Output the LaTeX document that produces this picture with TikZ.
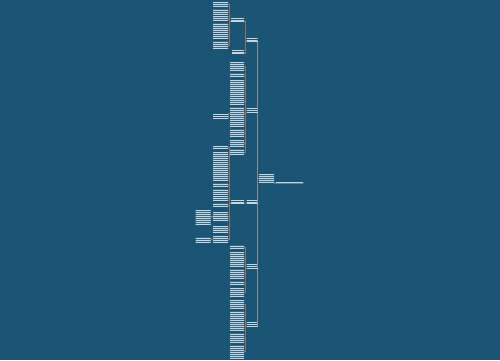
\documentclass[tikz,border=0pt]{standalone}
\usetikzlibrary{patterns.meta}

\definecolor{bgblue}{HTML}{1B5576}
\definecolor{txtc}{HTML}{C9D6DE}
\definecolor{spinec}{HTML}{8D9093}
\definecolor{subc}{HTML}{9C6E5C}

\tikzset{
  textlines/.style={postaction={pattern={Lines[angle=0,distance=2pt,line width=.6pt]},pattern color=txtc}},
  leaf/.style={rectangle,inner sep=0pt,minimum width=14pt,fill=bgblue!88!white,textlines},
  lab/.style={rectangle,inner sep=0pt,minimum height=3pt,anchor=south west,fill=bgblue,textlines},
  trunk/.style={draw=spinec,line width=1.2pt},
  twig/.style={draw=subc,line width=.7pt},
  under/.style={draw=txtc,line width=.5pt},
  elbow/.style={to path={-- ++(-1.5,0) |- (\tikztotarget)}}
}

\begin{document}
\begin{tikzpicture}[x=1pt,y=-1pt]

        \useasboundingbox (0,0) rectangle (500,360);
        \fill[bgblue] (0,0) rectangle (500,360);

        % centre and its five branches
        \node[leaf,minimum width=15pt,minimum height=9pt] (root) at (266.5,178.5) {};
        \node[lab,minimum width=27pt,minimum height=1.5pt] (rt) at (276,183) {};
        \node[lab,minimum width=11pt] (la) at (246.5,41)  {};
        \node[lab,minimum width=11pt] (lb) at (246.5,112) {};
        \node[lab,minimum width=11pt] (lc) at (246.5,203) {};
        \node[lab,minimum width=11pt] (ld) at (246.5,268) {};
        \node[lab,minimum width=11pt] (le) at (246.5,326) {};

        % branch a
        \node[lab,minimum width=13pt] (a1) at (231,21) {};
        \node[lab,minimum width=12pt] (a2) at (232,53) {};
        \begin{scope}[every node/.style={leaf,minimum width=15pt}]
          \node[minimum height=5pt]  (a11) at (220.5,4.5)  {};
          \node[minimum height=6pt]  (a12) at (220.5,12)   {};
          \node[minimum height=4pt]  (a13) at (220.5,18)   {};
          \node[minimum height=10pt] (a14) at (220.5,28)   {};
          \node[minimum height=5pt]  (a15) at (220.5,36.5) {};
          \node[minimum height=8pt]  (a16) at (220.5,45)   {};
        \end{scope}

        % branch b
        \begin{scope}[every node/.style={leaf}]
          \node[minimum height=8pt]  (b1)  at (237,66)    {};
          \node[minimum height=4pt]  (b2)  at (237,75)    {};
          \node[minimum height=8pt]  (b3)  at (237,84)    {};
          \node[minimum height=7pt]  (b4)  at (237,92.5)  {};
          \node[minimum height=7pt]  (b5)  at (237,101.5) {};
          \node[minimum height=13pt] (b6)  at (237,113.5) {};
          \node[minimum height=5pt]  (b7)  at (237,124.5) {};
          \node[minimum height=8pt]  (b8)  at (237,133)   {};
          \node[minimum height=6pt]  (b9)  at (237,143)   {};
          \node[minimum height=6pt]  (b10) at (237,152)   {};
        \end{scope}
        \node[lab,minimum width=15pt] (b61) at (213,118) {};

        % branch c
        \node[lab,minimum width=13pt] (c1) at (231,203) {};
        \begin{scope}[every node/.style={leaf,minimum width=15pt}]
          \node[minimum height=3pt]  (c11) at (220.5,147)   {};
          \node[minimum height=8pt]  (c12) at (220.5,156)   {};
          \node[minimum height=4pt]  (c13) at (220.5,164)   {};
          \node[minimum height=13pt] (c14) at (220.5,173.5) {};
          \node[minimum height=4pt]  (c15) at (220.5,185)   {};
          \node[minimum height=5pt]  (c16) at (220.5,191.5) {};
          \node[minimum height=5pt]  (c17) at (220.5,198)   {};
          \node[minimum height=4pt]  (c18) at (220.5,205)   {};
          \node[minimum height=8pt]  (c19) at (220.5,216)   {};
          \node[minimum height=7pt]  (c20) at (220.5,229.5) {};
          \node[minimum height=7pt]  (c21) at (220.5,239.5) {};
          \node[minimum height=15pt] (c191) at (203,217.5)  {};
          \node[minimum height=5pt]  (c211) at (203,239.5)  {};
        \end{scope}

        % branch d
        \begin{scope}[every node/.style={leaf}]
          \node[minimum height=4pt]  (d1) at (237,247)   {};
          \node[minimum height=15pt] (d2) at (237,259.5) {};
          \node[minimum height=9pt]  (d3) at (237,273.5) {};
          \node[minimum height=4pt]  (d4) at (237,283)   {};
          \node[minimum height=8pt]  (d5) at (237,292)   {};
        \end{scope}

        % branch e
        \begin{scope}[every node/.style={leaf}]
          \node[minimum height=9pt]  (e1) at (237,304.5) {};
          \node[minimum height=9pt]  (e2) at (237,315.5) {};
          \node[minimum height=9pt]  (e3) at (237,326.5) {};
          \node[minimum height=10pt] (e4) at (237,338)   {};
          \node[minimum height=13pt] (e5) at (237,351.5) {};
        \end{scope}

        % main spine
        \begin{scope}[every edge/.style={trunk,elbow}]
          \path (root.west) edge (la.south east);
          \path (root.west) edge (lb.south east);
          \path (root.west) edge (lc.south east);
          \path (root.west) edge (ld.south east);
          \path (root.west) edge (le.south east);
        \end{scope}
        \path[under] (root.south east) -- (rt.south east);
        \path[under] (la.south east) -- (la.south west);
        \path[under] (lb.south east) -- (lb.south west);
        \path[under] (lc.south east) -- (lc.south west);
        \path[under] (ld.south east) -- (ld.south west);
        \path[under] (le.south east) -- (le.south west);

        \begin{scope}[every edge/.style={twig,elbow}]
          \path (la.south west) edge (a1.south east) edge (a2.south east);
          \path (a1.south west) edge (a11.east) edge (a12.east) edge (a13.east)
                                edge (a14.east) edge (a15.east) edge (a16.east);
          \path (lb.south west) edge (b1.east) edge (b2.east) edge (b3.east)
                                edge (b4.east) edge (b5.east) edge (b6.east)
                                edge (b7.east) edge (b8.east) edge (b9.east)
                                edge (b10.east);
          \path (b6.west) edge (b61.south east);
          \path (lc.south west) edge (c1.south east);
          \path (c1.south west) edge (c11.east) edge (c12.east) edge (c13.east)
                                edge (c14.east) edge (c15.east) edge (c16.east)
                                edge (c17.east) edge (c18.east) edge (c19.east)
                                edge (c20.east) edge (c21.east);
          \path (c19.west) edge (c191.east);
          \path (c21.west) edge (c211.east);
          \path (ld.south west) edge (d1.east) edge (d2.east) edge (d3.east)
                                edge (d4.east) edge (d5.east);
          \path (le.south west) edge (e1.east) edge (e2.east) edge (e3.east)
                                edge (e4.east) edge (e5.east);
        \end{scope}
        \path[under] (a1.south east) -- (a1.south west);
        \path[under] (a2.south east) -- (a2.south west);
        \path[under] (c1.south east) -- (c1.south west);
        \path[under] (b61.south east) -- (b61.south west);

      \end{tikzpicture}
\end{document}
